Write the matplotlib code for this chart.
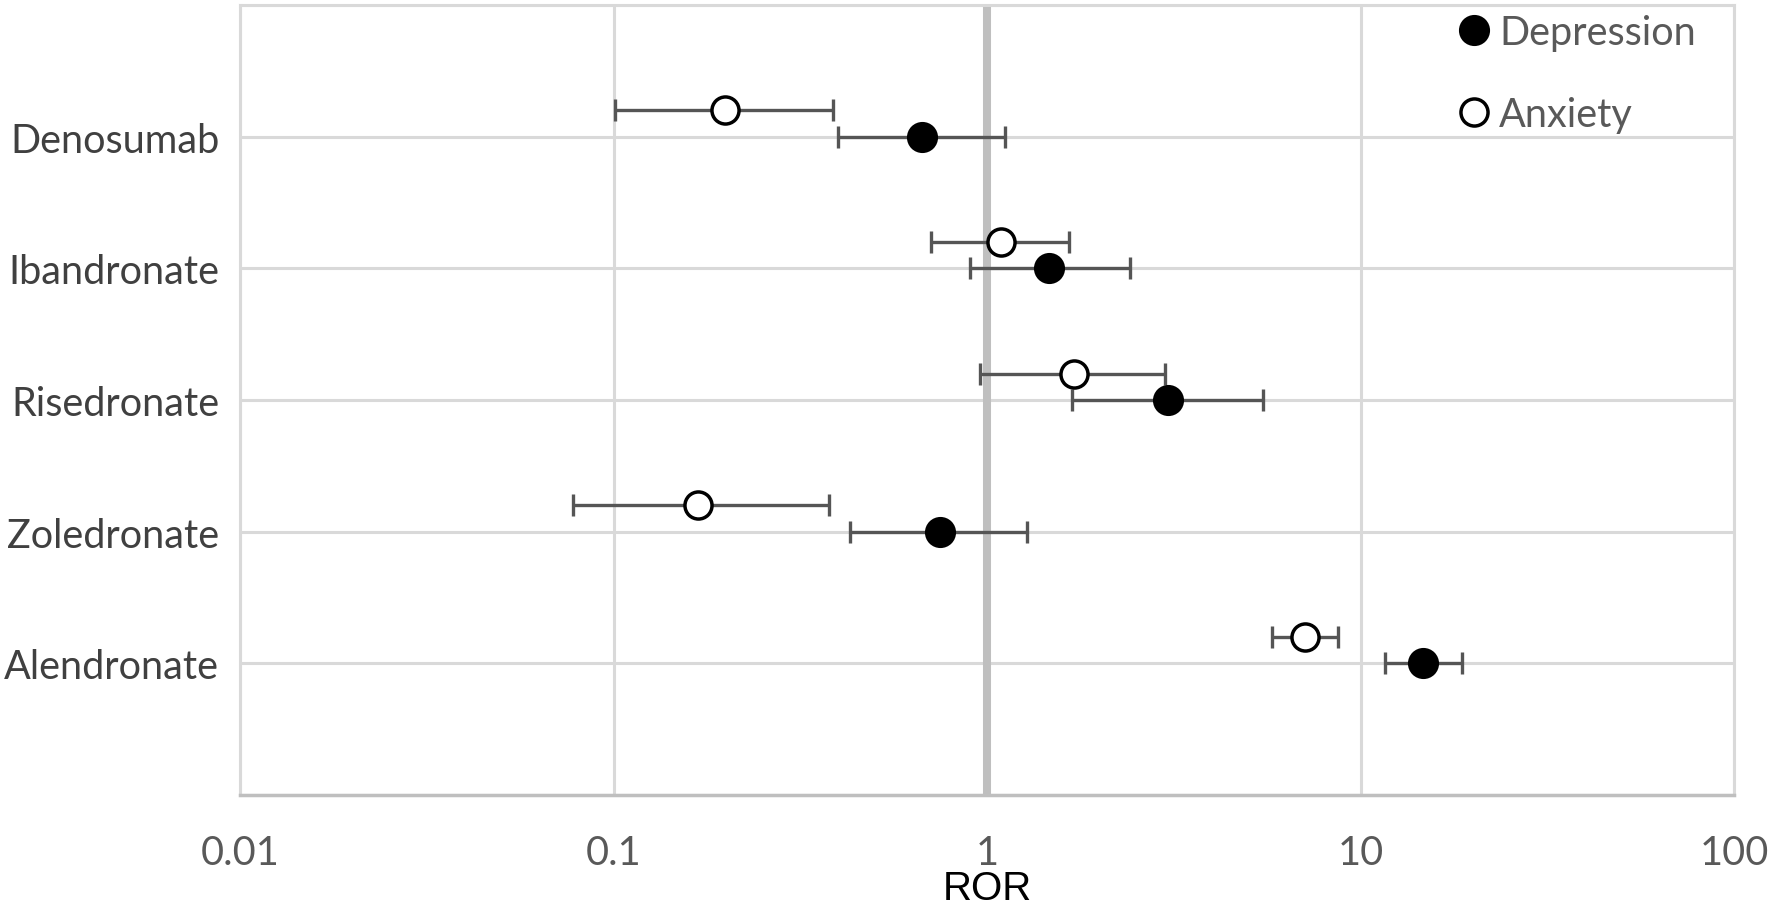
import matplotlib.pyplot as plt
from matplotlib.lines import Line2D
import numpy as np

# drugs listed bottom to top
drugs = ["Alendronate", "Zoledronate", "Risedronate", "Ibandronate", "Denosumab"]

dep_ror = [14.7, 0.75, 3.06, 1.47, 0.67]
dep_lo = [11.6, 0.43, 1.69, 0.90, 0.40]
dep_hi = [18.7, 1.28, 5.48, 2.42, 1.12]

anx_ror = [7.1, 0.168, 1.71, 1.09, 0.199]
anx_lo = [5.8, 0.078, 0.96, 0.71, 0.101]
anx_hi = [8.7, 0.378, 3.0, 1.66, 0.387]

x_ticks = [0.01, 0.1, 1, 10, 100]
x_tick_labels = ["0.01", "0.1", "1", "10", "100"]

LABEL_FONT = ["Lato", "DejaVu Sans"]
GRID = "#d9d9d9"
BAR = "#555555"
FS = 28.5


def main() -> None:
    fig = plt.figure(figsize=(17.7, 9.12), dpi=100)
    ax = fig.add_axes([240 / 1770, 116 / 912, 1494 / 1770, 790 / 912])

    y = np.arange(1, len(drugs) + 1)
    offset = 0.2

    dep = np.array(dep_ror)
    anx = np.array(anx_ror)

    ax.axvline(1, color="#bfbfbf", lw=5.8, zorder=1)

    bar_style = dict(fmt="none", ecolor=BAR, elinewidth=2.4, capsize=7.9, capthick=2.4, zorder=2)
    ax.errorbar(dep, y, xerr=[dep - np.array(dep_lo), np.array(dep_hi) - dep], **bar_style)
    ax.errorbar(anx, y + offset, xerr=[anx - np.array(anx_lo), np.array(anx_hi) - anx], **bar_style)
    ax.plot(dep, y, "o", ms=20, mfc="black", mec="black", mew=2.4, ls="none", zorder=3)
    ax.plot(anx, y + offset, "o", ms=19.5, mfc="white", mec="black", mew=2.5, ls="none", zorder=3)

    ax.set_xscale("log")
    ax.set_xlim(0.01, 100)
    ax.set_ylim(0, 6)
    ax.set_xticks(x_ticks)
    ax.set_xticklabels(x_tick_labels)
    ax.minorticks_off()
    ax.set_yticks(y)
    ax.set_yticklabels(drugs)
    ax.set_yticks(range(0, 7), minor=True)

    ax.grid(True, which="major", axis="x", color=GRID, lw=2.2, zorder=0)
    ax.grid(True, which="both", axis="y", color=GRID, lw=2.2, zorder=0)
    ax.set_axisbelow(True)

    for side in ["left", "top", "right"]:
        ax.spines[side].set_color(GRID)
        ax.spines[side].set_linewidth(2.2)
    ax.spines["bottom"].set_color("#bfbfbf")
    ax.spines["bottom"].set_linewidth(2.5)

    ax.tick_params(axis="both", which="both", length=0)
    ax.tick_params(axis="x", pad=28)
    ax.tick_params(axis="y", pad=15)
    for lab in ax.get_xticklabels():
        lab.set_fontfamily(LABEL_FONT)
        lab.set_fontsize(FS)
        lab.set_color("#595959")
    for lab in ax.get_yticklabels():
        lab.set_fontfamily(LABEL_FONT)
        lab.set_fontsize(FS)
        lab.set_color("#404040")

    ax.set_xlabel("ROR", fontfamily=["Liberation Sans", "DejaVu Sans"], fontsize=29,
                  color="black", labelpad=-1)

    handles = [
        Line2D([], [], marker="o", ls="none", ms=20, mfc="black", mec="black", mew=2.4),
        Line2D([], [], marker="o", ls="none", ms=19.5, mfc="white", mec="black", mew=2.5),
    ]
    leg = fig.legend(
        handles, ["Depression", "Anxiety"],
        loc="upper left", bbox_to_anchor=(1426 / 1770, 1.014),
        frameon=False, handlelength=1.0, handletextpad=0.15,
        labelspacing=1.13, borderpad=0.2,
        prop={"family": LABEL_FONT, "size": FS},
    )
    for t in leg.get_texts():
        t.set_color("#595959")

    fig.savefig("out.png", dpi=100)
    plt.close(fig)


if __name__ == "__main__":
    main()
